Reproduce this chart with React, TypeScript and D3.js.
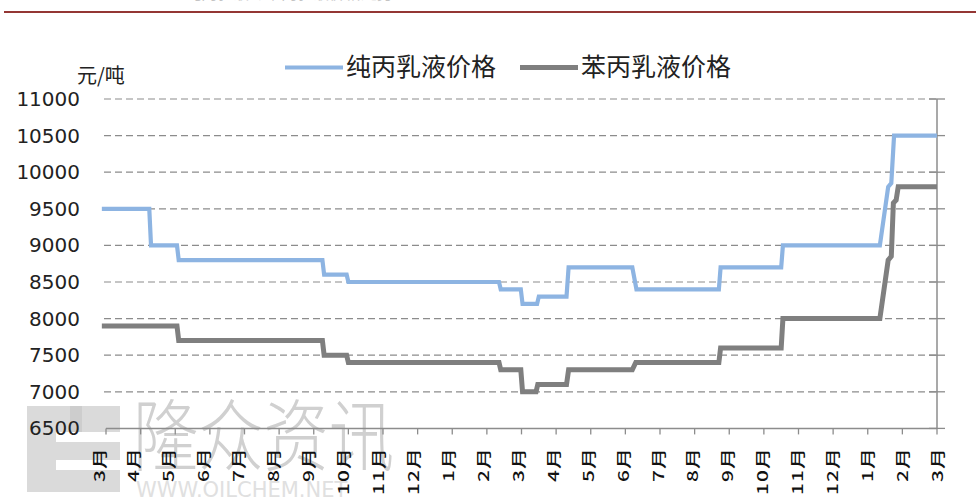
import React, { useEffect, useRef } from 'react';
import * as d3 from 'd3';

// month offsets from the first March, price in 元/吨
const monthLabels = [
  '3月', '4月', '5月', '6月', '7月', '8月', '9月', '10月', '11月', '12月',
  '1月', '2月', '3月', '4月', '5月', '6月', '7月', '8月', '9月', '10月', '11月', '12月',
  '1月', '2月', '3月',
];

const yTicks = [6500, 7000, 7500, 8000, 8500, 9000, 9500, 10000, 10500, 11000];

const pureAcrylic: [number, number][] = [
  [-0.12, 9500], [1.25, 9500], [1.3, 9000], [2.05, 9000], [2.1, 8800],
  [6.25, 8800], [6.3, 8600], [6.95, 8600], [7.0, 8500], [11.35, 8500],
  [11.4, 8400], [11.98, 8400], [12.03, 8200], [12.45, 8200], [12.5, 8300],
  [13.3, 8300], [13.36, 8700], [15.2, 8700], [15.32, 8400], [17.7, 8400],
  [17.75, 8700], [19.5, 8700], [19.55, 9000], [22.35, 9000], [22.59, 9800],
  [22.68, 9850], [22.76, 10500], [24, 10500],
];

const styreneAcrylic: [number, number][] = [
  [-0.12, 7900], [2.05, 7900], [2.1, 7700], [6.25, 7700], [6.3, 7500],
  [6.95, 7500], [7.0, 7400], [11.35, 7400], [11.4, 7300], [11.98, 7300],
  [12.03, 7000], [12.42, 7000], [12.47, 7100], [13.3, 7100], [13.36, 7300],
  [15.2, 7300], [15.3, 7400], [17.7, 7400], [17.75, 7600], [19.5, 7600],
  [19.55, 8000], [22.35, 8000], [22.59, 8800], [22.68, 8850], [22.74, 9580],
  [22.82, 9620], [22.88, 9800], [24, 9800],
];

const seriesNames = ['纯丙乳液价格', '苯丙乳液价格'];
const seriesColors = ['#8db4e2', '#7f7f7f'];

export default function App() {
  const ref = useRef<HTMLDivElement>(null);

  useEffect(() => {
    document.body.style.margin = '0';
    const width = 976;
    const height = 504;
    const cjk = '"Noto Sans CJK SC", "Noto Sans", sans-serif';

    const root = d3.select(ref.current);
    root.selectAll('*').remove();
    const svg = root.append('svg')
      .attr('width', width)
      .attr('height', height)
      .style('display', 'block')
      .style('background', '#fff');

    const x = d3.scaleLinear().domain([0, 24]).range([106, 937]);
    const y = d3.scaleLinear().domain([6500, 11000]).range([428.4, 99]);
    // month labels sit a little left of their ticks at the left end
    const xLabel = d3.scaleLinear().domain([0, 24]).range([98, 936.5]);

    // cut-off title and the red rule at the top
    svg.append('text')
      .attr('x', 185).attr('y', -1)
      .style('font-family', cjk).style('font-size', '16px')
      .attr('fill', '#c4c4c4')
      .text('纯丙乳液与苯丙乳液价格走势');
    svg.append('line')
      .attr('x1', 4).attr('x2', width).attr('y1', 12).attr('y2', 12)
      .attr('stroke', '#943634').attr('stroke-width', 2.2);

    // watermark
    const wm = svg.append('g');
    wm.append('rect').attr('x', 27).attr('y', 406).attr('width', 93).attr('height', 86).attr('fill', '#dadada');
    wm.append('rect').attr('x', 56).attr('y', 432).attr('width', 64).attr('height', 10).attr('fill', '#fff');
    wm.append('rect').attr('x', 56).attr('y', 460).attr('width', 64).attr('height', 10).attr('fill', '#fff');
    wm.append('rect').attr('x', 70).attr('y', 406).attr('width', 12).attr('height', 26).attr('fill', '#cdcdcd');
    wm.append('text')
      .attr('transform', 'translate(133,465) scale(1.02,1.22)')
      .style('font-family', cjk).style('font-size', '64px').style('font-weight', 300)
      .attr('fill', '#d0d0d0')
      .text('隆众资讯');
    wm.append('text')
      .attr('x', 136).attr('y', 497)
      .style('font-family', '"DejaVu Sans", sans-serif').style('font-size', '21px')
      .attr('fill', '#e0e0e0')
      .text('WWW.OILCHEM.NET');

    // gridlines
    svg.append('g')
      .selectAll('line')
      .data(yTicks.slice(1))
      .enter()
      .append('line')
      .attr('x1', 104).attr('x2', x(24))
      .attr('y1', d => y(d)).attr('y2', d => y(d))
      .attr('stroke', '#8c8c8c').attr('stroke-width', 1.2)
      .attr('stroke-dasharray', '7,4');

    // right axis line with cross ticks
    const axisColor = '#8c8c8c';
    svg.append('line')
      .attr('x1', x(24)).attr('x2', x(24)).attr('y1', y(11000)).attr('y2', y(6500))
      .attr('stroke', axisColor).attr('stroke-width', 1.5);
    svg.append('g')
      .selectAll('line')
      .data(yTicks)
      .enter()
      .append('line')
      .attr('x1', x(24) - 8).attr('x2', x(24) + 8)
      .attr('y1', d => y(d)).attr('y2', d => y(d))
      .attr('stroke', axisColor).attr('stroke-width', 1.3);

    // bottom axis
    svg.append('line')
      .attr('x1', x(0)).attr('x2', x(24)).attr('y1', y(6500)).attr('y2', y(6500))
      .attr('stroke', axisColor).attr('stroke-width', 1.5);
    svg.append('g')
      .selectAll('line')
      .data(monthLabels)
      .enter()
      .append('line')
      .attr('x1', (d, i) => x(i)).attr('x2', (d, i) => x(i))
      .attr('y1', y(6500)).attr('y2', y(6500) + 6)
      .attr('stroke', axisColor).attr('stroke-width', 1.3);

    svg.append('g')
      .selectAll('text')
      .data(monthLabels)
      .enter()
      .append('text')
      .attr('transform', (d, i) => `translate(${xLabel(i) + 6.5},447) rotate(-90) scale(1.1,0.78)`)
      .attr('text-anchor', 'end')
      .style('font-family', cjk).style('font-size', '19px').style('font-weight', 500)
      .style('letter-spacing', '1px')
      .attr('fill', '#111')
      .text(d => d);

    // y labels
    svg.append('g')
      .selectAll('text')
      .data(yTicks)
      .enter()
      .append('text')
      .attr('x', 80).attr('y', d => y(d) + 7)
      .attr('text-anchor', 'end')
      .style('font-family', '"DejaVu Sans", sans-serif').style('font-size', '20px')
      .attr('fill', '#222')
      .text(d => d);

    svg.append('text')
      .attr('x', 77).attr('y', 83)
      .style('font-family', cjk).style('font-size', '20px')
      .attr('fill', '#222')
      .text('元/吨');

    // series
    const line = d3.line<[number, number]>()
      .x(d => x(d[0]))
      .y(d => y(d[1]));

    [pureAcrylic, styreneAcrylic].forEach((data, i) => {
      svg.append('path')
        .datum(data)
        .attr('d', line)
        .attr('fill', 'none')
        .attr('stroke', seriesColors[i])
        .attr('stroke-width', i === 0 ? 4.2 : 5)
        .attr('stroke-linejoin', 'miter');
    });

    // legend
    const legendX = [285, 520];
    seriesNames.forEach((name, i) => {
      svg.append('line')
        .attr('x1', legendX[i]).attr('x2', legendX[i] + 58)
        .attr('y1', 67.5).attr('y2', 67.5)
        .attr('stroke', seriesColors[i]).attr('stroke-width', i === 0 ? 4.2 : 5);
      svg.append('text')
        .attr('x', legendX[i] + 61).attr('y', 76)
        .style('font-family', cjk).style('font-size', '25px')
        .attr('fill', '#222')
        .text(name);
    });
  }, []);

  return <div ref={ref} style={{ position: 'absolute', left: 0, top: 0 }}></div>;
}
